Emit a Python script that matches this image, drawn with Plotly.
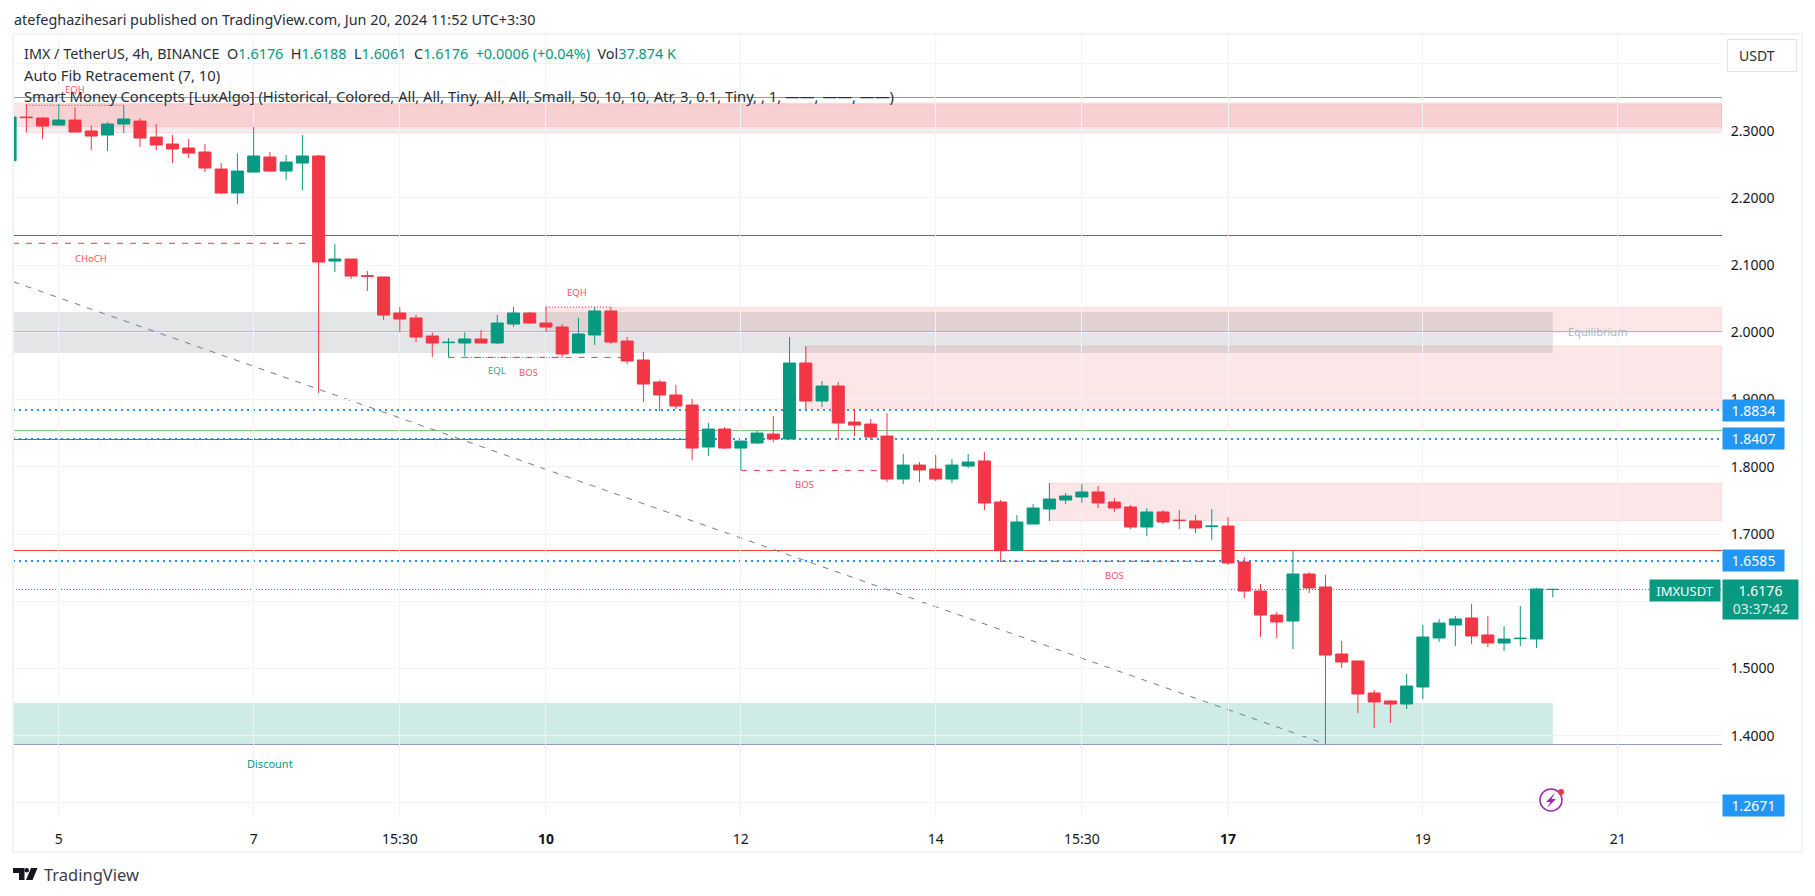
import plotly.graph_objects as go

# candles, 4h bars, index -1 is the one cut off at the left edge
bar_index = list(range(-1, 95))
opens = [2.2554, 2.3203, 2.3189, 2.3085, 2.3159, 2.2996, 2.2936, 2.3100, 2.3144, 2.2906, 2.2802, 2.2743,
         2.2683, 2.2430, 2.2073, 2.2385, 2.2609, 2.2400, 2.2519, 2.2624, 2.1061, 2.1091, 2.0842, 2.0824,
         2.0288, 2.0214, 1.9946, 1.9847, 1.9842, 1.9901, 1.9842, 2.0124, 2.0288, 2.0139, 2.0080, 1.9693,
         1.9961, 2.0318, 1.9871, 1.9589, 1.9261, 1.9068, 1.8919, 1.8294, 1.8562, 1.8279, 1.8354, 1.8487,
         1.8413, 1.9544, 1.8979, 1.9202, 1.8666, 1.8636, 1.8458, 1.7818, 1.8026, 1.7967, 1.7818, 1.8011,
         1.8087, 1.7476, 1.6752, 1.7149, 1.7372, 1.7506, 1.7551, 1.7625, 1.7476, 1.7402, 1.7104, 1.7328,
         1.7207, 1.7194, 1.7112, 1.7119, 1.6584, 1.6152, 1.5795, 1.5706, 1.6405, 1.6212, 1.5215, 1.5111,
         1.4635, 1.4516, 1.4471, 1.4724, 1.5453, 1.5647, 1.5751, 1.5498, 1.5379, 1.5443, 1.5438, 1.6175]
highs = [2.3204, 2.3397, 2.3199, 2.3397, 2.3348, 2.3080, 2.3129, 2.3377, 2.3189, 2.3100, 2.2936, 2.2876,
         2.2802, 2.2519, 2.2663, 2.3055, 2.2683, 2.2638, 2.2936, 2.2638, 2.1314, 2.1091, 2.0912, 2.0824,
         2.0377, 2.0258, 2.0000, 1.9916, 2.0000, 2.0035, 2.0258, 2.0377, 2.0303, 2.0377, 2.0124, 2.0214,
         2.0377, 2.0377, 1.9931, 1.9708, 1.9291, 1.9217, 1.9008, 1.8651, 1.8592, 1.8383, 1.8532, 1.8755,
         1.9931, 1.9797, 1.9276, 1.9261, 1.8859, 1.8711, 1.8800, 1.8190, 1.8071, 1.8175, 1.8115, 1.8190,
         1.8220, 1.7506, 1.7283, 1.7447, 1.7759, 1.7610, 1.7744, 1.7715, 1.7536, 1.7432, 1.7387, 1.7357,
         1.7357, 1.7283, 1.7372, 1.7253, 1.6658, 1.6256, 1.5840, 1.6748, 1.6435, 1.6391, 1.5408, 1.5111,
         1.4679, 1.4531, 1.4917, 1.5647, 1.5736, 1.5781, 1.5959, 1.5781, 1.5632, 1.5929, 1.6197, 1.6188]
lows = [2.2554, 2.2971, 2.2876, 2.3070, 2.2981, 2.2713, 2.2698, 2.2966, 2.2757, 2.2713, 2.2519, 2.2594,
        2.2385, 2.2058, 2.1909, 2.2385, 2.2385, 2.2266, 2.2117, 1.9097, 2.0897, 2.0794, 2.0615, 2.0183,
        2.0000, 1.9856, 1.9633, 1.9628, 1.9648, 1.9842, 1.9827, 2.0080, 2.0124, 2.0000, 1.9628, 1.9693,
        1.9812, 1.9827, 1.9529, 1.8964, 1.8830, 1.8859, 1.8101, 1.8160, 1.8264, 1.7947, 1.8339, 1.8368,
        1.8413, 1.8859, 1.8889, 1.8398, 1.8458, 1.8398, 1.7773, 1.7743, 1.7773, 1.7788, 1.7758, 1.7982,
        1.7357, 1.6584, 1.6752, 1.7149, 1.7194, 1.7447, 1.7462, 1.7387, 1.7328, 1.7075, 1.6971, 1.7149,
        1.7075, 1.7015, 1.6911, 1.6539, 1.6048, 1.5468, 1.5453, 1.5289, 1.6123, 1.3876, 1.5007, 1.4337,
        1.4114, 1.4188, 1.4397, 1.4545, 1.5394, 1.5334, 1.5364, 1.5319, 1.5260, 1.5334, 1.5304, 1.6061]
closes = [2.3204, 2.3195, 2.3070, 2.3159, 2.2981, 2.2921, 2.3100, 2.3174, 2.2891, 2.2787, 2.2728, 2.2668,
          2.2445, 2.2073, 2.2400, 2.2624, 2.2400, 2.2534, 2.2624, 2.1046, 2.1091, 2.0838, 2.0835, 2.0257,
          2.0199, 1.9931, 1.9842, 1.9853, 1.9901, 1.9842, 2.0139, 2.0288, 2.0139, 2.0080, 1.9678, 1.9976,
          2.0318, 1.9856, 1.9574, 1.9231, 1.9068, 1.8904, 1.8279, 1.8562, 1.8279, 1.8383, 1.8502, 1.8413,
          1.9544, 1.8979, 1.9202, 1.8651, 1.8621, 1.8443, 1.7818, 1.8026, 1.7952, 1.7818, 1.8026, 1.8071,
          1.7462, 1.6752, 1.7179, 1.7387, 1.7521, 1.7566, 1.7625, 1.7462, 1.7387, 1.7104, 1.7328, 1.7179,
          1.7200, 1.7090, 1.7118, 1.6569, 1.6152, 1.5795, 1.5691, 1.6405, 1.6197, 1.5200, 1.5096, 1.4620,
          1.4501, 1.4471, 1.4739, 1.5468, 1.5676, 1.5736, 1.5483, 1.5379, 1.5438, 1.5449, 1.6182, 1.6176]

# axes
price_ticks = [1.3, 1.4, 1.5, 1.6, 1.7, 1.8, 1.9, 2.0, 2.1, 2.2, 2.3, 2.4]
time_ticks = [2, 14, 23, 32, 44, 56, 65, 74, 86, 98]
time_labels = ["5", "7", "15:30", "<b>10</b>", "12", "14", "15:30", "<b>17</b>", "19", "21"]

# horizontal levels across the whole pane, read at the row they are drawn on
level_fib_top = 2.3494
level_eq_teal = 2.1441
level_fib_mid = 2.0005
level_fib_green = 1.8540
level_fib_red = 1.6755
level_low = 1.3869
level_last = 1.6175
blue_levels = [1.8845, 1.8414, 1.6599]
blue_tags = ["1.8834", "1.8407", "1.6585"]
tag_low = "1.2671"
tag_last = "1.6176"

# zones: (bar start, bar end or None for right edge, top, bottom)
pink_zones = [(None, None, 2.3408, 2.3060), (0, None, 2.3397, 2.2971), (32, None, 2.0375, 2.0005),
              (48, None, 1.9797, 1.8865), (63, None, 1.7759, 1.7199)]
grey_zone = (None, 94, 2.0303, 1.9693)
teal_zone = (None, 94, 1.4486, 1.3876)

# structure lines: (bar start, bar end, price)
bos_lines = [(None, 18, 2.1325), (26, 37, 1.9628), (44, 53, 1.7947), (60, 74, 1.6594)]
red_line_short = (None, 41, 1.8406)
eqh_lines = [(0, 6, 2.3377), (32, 36, 2.0377)]
eql_lines = [(27, 33, 1.9628)]
diagonal = (-0.8, 80, 2.0754, 1.3876)

# (bar, price, text)
red_labels = [(3, 2.3620, "EQH"), (4, 2.1106, "CHoCH"), (33.9, 2.0600, "EQH"), (30.95, 1.9410, "BOS"),
              (47.95, 1.7734, "BOS"), (67, 1.6390, "BOS")]
green_labels = [(29, 1.9434, "EQL")]
zone_label_discount = (15, 1.3579, "Discount")
zone_label_eq = (96.75, 2.0010, "Equilibrium")

title_line = "atefeghazihesari published on TradingView.com, Jun 20, 2024 11:52 UTC+3:30"
indicator_1 = "Auto Fib Retracement (7, 10)"
indicator_2 = ("Smart Money Concepts [LuxAlgo] (Historical, Colored, All, All, Tiny, All, All, Small, "
               "50, 10, 10, Atr, 3, 0.1, Tiny, , 1, ——, ——, ——)")

UP = "#089981"
DOWN = "#f23645"
BLUE = "#2196f3"
GRID = "#f0f3fa"
FONT = "Noto Sans"
TEXT = "#2a2e39"

W, H = 1815, 896
LEFT, RIGHT, TOP, BOTTOM = 13, 1722, 34, 817


def px(x):
    return (x - LEFT) / (RIGHT - LEFT)


def py(y):
    return (BOTTOM - y) / (BOTTOM - TOP)


def hspan(x0, x1, price, color, width=1, dash="solid"):
    """Line at a price, None ends run to the pane edge"""
    x0_val = x0 if x0 is not None else X_MIN
    x1_val = x1 if x1 is not None else X_MAX
    return dict(type="line", layer="below", xref="x", yref="y", x0=x0_val, x1=x1_val, y0=price, y1=price,
                line=dict(color=color, width=width, dash=dash))


def zone(z, fill, edge=None):
    x0, x1, top, bottom = z
    return dict(type="rect", layer="below", xref="x", yref="y",
                x0=x0 if x0 is not None else X_MIN, x1=x1 if x1 is not None else X_MAX,
                y0=bottom, y1=top, fillcolor=fill, line=dict(color=edge or "rgba(0,0,0,0)", width=1))


def price_tag(label, y, yref="y", yanchor="middle"):
    return dict(xref="paper", yref=yref, x=1, y=y, xanchor="left", yanchor=yanchor,
                text=label, showarrow=False, width=61, height=21, bgcolor=BLUE, align="center",
                borderpad=0, font=dict(family=FONT, size=14, color="white"))


def text_at(x, y, text, size=14, color=TEXT, **kw):
    return dict(xref="paper", yref="paper", x=px(x), y=py(y), xanchor="left", yanchor="middle", text=text,
                showarrow=False, font=dict(family=FONT, size=size, color=color), **kw)


X_MIN, X_MAX = -0.82, 104.42
Y_MIN, Y_MAX = 1.2790, 2.4439

fig = go.Figure(go.Candlestick(
    x=bar_index, open=opens, high=highs, low=lows, close=closes,
    increasing=dict(line=dict(color=UP, width=1), fillcolor=UP),
    decreasing=dict(line=dict(color=DOWN, width=1), fillcolor=DOWN),
    whiskerwidth=0, hoverinfo="skip", showlegend=False,
))

shapes = []
for z in pink_zones:
    shapes.append(zone(z, "rgba(235,60,70,0.13)", "rgba(235,60,70,0.1)"))
shapes.append(zone(grey_zone, "rgba(120,123,134,0.2)"))
shapes.append(zone(teal_zone, "rgba(8,153,129,0.2)"))

shapes.append(hspan(None, None, level_fib_top, "#64a6e0"))
shapes.append(hspan(None, None, level_eq_teal, "#1f8f80"))
shapes.append(hspan(None, None, level_fib_mid, "#4caf50"))
shapes.append(hspan(None, None, level_fib_green, "#81c784"))
shapes.append(hspan(None, None, level_fib_red, "#f44336"))
shapes.append(hspan(None, None, level_low, "#8f97c4"))
shapes.append(hspan(None, None, level_last, UP, dash="1px,2px"))
for level in blue_levels:
    shapes.append(hspan(None, None, level, BLUE, width=2, dash="2px,4px"))
shapes.append(hspan(red_line_short[0], red_line_short[1], red_line_short[2], DOWN))
for x0, x1, price in bos_lines:
    shapes.append(hspan(x0, x1, price, DOWN, dash="6px,7px"))
for x0, x1, price in eqh_lines:
    shapes.append(hspan(x0, x1, price, DOWN, dash="1px,2px"))
for x0, x1, price in eql_lines:
    shapes.append(hspan(x0, x1, price, UP, dash="1px,2px"))
shapes.append(dict(type="line", layer="below", xref="x", yref="y", x0=diagonal[0], x1=diagonal[1],
                   y0=diagonal[2], y1=diagonal[3], line=dict(color="#787b86", width=1, dash="6px,7px")))

# pane frame
shapes.append(dict(type="rect", xref="paper", yref="paper", x0=px(13), x1=px(1802), y0=py(34), y1=py(852),
                   line=dict(color=GRID, width=2)))

# bolt badge near the last bar
shapes.append(dict(type="circle", xref="paper", yref="paper", x0=px(1540), x1=px(1562), y0=py(789), y1=py(811),
                   fillcolor="white", line=dict(color="#9c27b0", width=1.5)))
shapes.append(dict(type="circle", xref="paper", yref="paper", x0=px(1558), x1=px(1564), y0=py(789), y1=py(795),
                   fillcolor=DOWN, line=dict(width=0)))
bolt = [(1555, 793), (1546, 802), (1550.5, 802), (1547, 808), (1556, 799), (1551.5, 799)]
shapes.append(dict(type="path", xref="paper", yref="paper", fillcolor="#9c27b0", line=dict(width=0),
                   path="M" + "L".join(f"{px(a):.5f},{py(b):.5f}" for a, b in bolt) + "Z"))

# logo
logo_t = [(13, 868), (24.5, 868), (24.5, 880), (19, 880), (19, 873), (13, 873)]
logo_slash = [(31, 868), (37.5, 868), (32.5, 880), (26, 880)]
for poly in (logo_t, logo_slash):
    shapes.append(dict(type="path", xref="paper", yref="paper", fillcolor="#131722", line=dict(width=0),
                       path="M" + "L".join(f"{px(a):.5f},{py(b):.5f}" for a, b in poly) + "Z"))
shapes.append(dict(type="circle", xref="paper", yref="paper", x0=px(24.5), x1=px(29), y0=py(868), y1=py(872.5),
                   fillcolor="#131722", line=dict(width=0)))

anns = [text_at(12, 19, title_line, size=14.4)]
val = lambda s: f"<span style='color:{UP}'>{s}</span>"
anns.append(text_at(22, 54, "IMX / TetherUS, 4h, BINANCE  O" + val("1.6176") + "  H" + val("1.6188") + "  L" + val("1.6061")
                    + "  C" + val("1.6176") + "  " + val("+0.0006 (+0.04%)") + "  Vol" + val("37.874 K"), size=14.4))
anns.append(text_at(22, 75, indicator_1, size=14.8))
anns.append(text_at(22, 96, indicator_2, size=14.8))

for x, y, t in red_labels:
    anns.append(dict(x=x, y=y, text=t, showarrow=False, font=dict(family=FONT, size=9.5, color=DOWN), opacity=0.85))
for x, y, t in green_labels:
    anns.append(dict(x=x, y=y, text=t, showarrow=False, font=dict(family=FONT, size=9.5, color=UP), opacity=0.85))
anns.append(dict(x=zone_label_discount[0], y=zone_label_discount[1], text=zone_label_discount[2], showarrow=False,
                 font=dict(family=FONT, size=11, color=UP)))
anns.append(dict(x=zone_label_eq[0], y=zone_label_eq[1], text=zone_label_eq[2], showarrow=False,
                 font=dict(family=FONT, size=11, color="#b2b5be")))

for level, label in zip(blue_levels, blue_tags):
    anns.append(price_tag(label, level))
anns.append(price_tag(tag_low, 0, yref="paper", yanchor="bottom"))

# last price tag and ticker tag
anns.append(dict(xref="paper", yref="y", x=1, y=level_last, xanchor="left", yanchor="top", yshift=10,
                 text=f"{tag_last}<br><span style='color:#d5efe9'>03:37:42</span>", showarrow=False, width=75,
                 height=39, bgcolor=UP, align="center", borderpad=0, font=dict(family=FONT, size=14, color="white")))
anns.append(dict(xref="paper", yref="y", x=1, y=level_last, xanchor="right", yanchor="top", yshift=10, xshift=-1,
                 text="IMXUSDT", showarrow=False, width=70, height=21, bgcolor=UP, align="center", borderpad=0,
                 font=dict(family=FONT, size=13, color="white")))

# currency button, box and text apart so the text can sit left of centre
anns.append(dict(xref="paper", yref="paper", x=px(1727), y=py(39), xanchor="left", yanchor="top", text=" ",
                 showarrow=False, width=68, height=31, bgcolor="white", bordercolor="#e0e3eb", borderwidth=1,
                 borderpad=0, font=dict(family=FONT, size=14, color=TEXT)))
anns.append(text_at(1737, 55, "USDT", size=14))
anns.append(text_at(42, 875, "TradingView", size=16.5, color="#3b3f4a"))

fig.update_layout(
    width=W, height=H, autosize=False,
    margin=dict(l=LEFT, r=W - RIGHT, t=TOP, b=H - BOTTOM, pad=0),
    paper_bgcolor="white", plot_bgcolor="white",
    boxgap=0.26, boxgroupgap=0, showlegend=False, dragmode=False,
    shapes=shapes, annotations=anns,
    xaxis=dict(range=[X_MIN, X_MAX], tickmode="array", tickvals=time_ticks, ticktext=time_labels,
               rangeslider=dict(visible=False), showgrid=True, gridcolor=GRID, gridwidth=1, zeroline=False,
               showline=False, ticks="outside", ticklen=9, tickcolor="rgba(0,0,0,0)",
               tickfont=dict(family=FONT, size=14, color="#131722")),
    yaxis=dict(range=[Y_MIN, Y_MAX], side="right", tickmode="array", tickvals=price_ticks,
               ticktext=[f"{t:.4f}" for t in price_ticks], showgrid=True, gridcolor=GRID, gridwidth=1, zeroline=False,
               showline=False, ticks="outside", ticklen=5, tickcolor="rgba(0,0,0,0)",
               tickfont=dict(family=FONT, size=14, color="#131722")),
)

fig.write_html("out.html", config={"displayModeBar": False},
               post_script="document.body.style.margin='0';document.body.style.overflow='hidden';")
